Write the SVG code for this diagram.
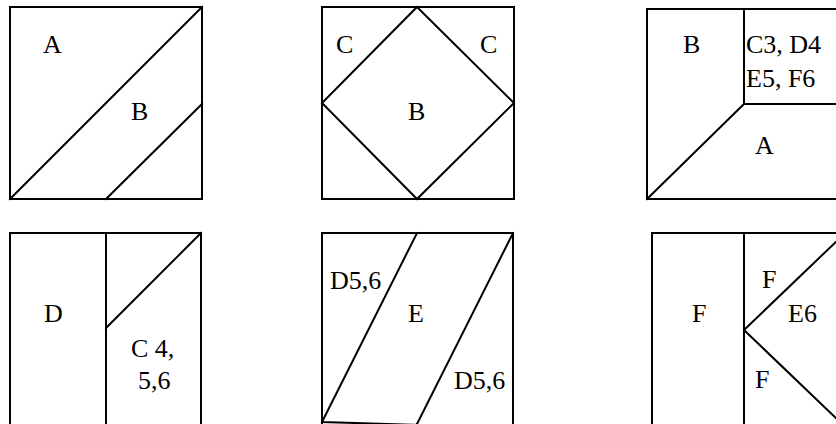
<svg xmlns="http://www.w3.org/2000/svg" width="836" height="424" viewBox="0 0 836 424">
<style>
.s{fill:none;stroke:#000;stroke-width:2;stroke-linecap:square}
.t{font-family:"Liberation Serif","Times New Roman",serif;font-size:26px;fill:#000}
</style>
<rect width="836" height="424" fill="#fff"/>
<g id="block1">
<rect class="s" x="10" y="7" width="192" height="192"/>
<path class="s" d="M10,199 L202,7 M106,199 L202,104"/>
<text class="t" x="43" y="53">A</text>
<text class="t" x="131" y="120">B</text>
</g>
<g id="block2">
<rect class="s" x="322" y="7" width="192" height="192"/>
<path class="s" d="M417,7 L514,103 L417,199 L322,103 Z"/>
<text class="t" x="336" y="53">C</text>
<text class="t" x="480" y="53">C</text>
<text class="t" x="408" y="120">B</text>
</g>
<g id="block3">
<path class="s" d="M840,9 L647,9 L647,199 L840,199"/>
<path class="s" d="M744,9 L744,104 L840,104 M647,199 L744,104"/>
<text class="t" x="683" y="53">B</text>
<text class="t" x="746" y="53">C3, D4</text>
<text class="t" x="746" y="87">E5, F6</text>
<text class="t" x="755" y="154">A</text>
</g>
<g id="block4">
<path class="s" d="M10,430 L10,233 L201,233 L201,430 M106,233 L106,430 M106,328 L201,233"/>
<text class="t" x="44" y="322">D</text>
<text class="t" x="131" y="357">C 4,</text>
<text class="t" x="138" y="389">5,6</text>
</g>
<g id="block5">
<path class="s" d="M322,430 L322,233 L513,233 L513,430"/>
<path class="s" d="M417,233 L322,422 M513,233 L416,426 M322,422 L420,425"/>
<text class="t" x="330" y="289">D5,6</text>
<text class="t" x="408" y="322">E</text>
<text class="t" x="454" y="389">D5,6</text>
</g>
<g id="block6">
<path class="s" d="M652,430 L652,233 L840,233 M744,233 L744,430"/>
<path class="s" d="M840,238 L744,330 L840,422"/>
<text class="t" x="692" y="322">F</text>
<text class="t" x="762" y="288">F</text>
<text class="t" x="788" y="322">E6</text>
<text class="t" x="755" y="388">F</text>
</g>
</svg>
